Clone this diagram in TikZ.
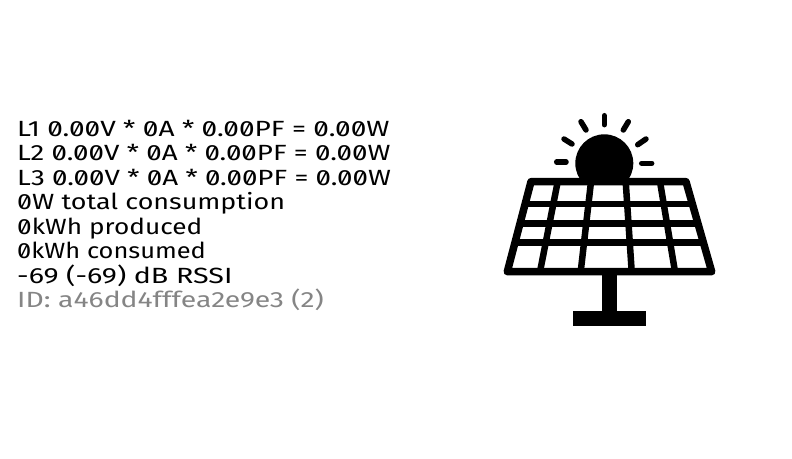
\documentclass[tikz,border=0pt]{standalone}
\usepackage{fontspec}
\setmainfont[Numbers=SlashedZero,FakeStretch=1.26]{Fira Sans}
\newcommand{\fitline}[2]{\scalebox{#1}[1]{#2}}
\tikzset{
	readout/.style={anchor=base west, inner sep=0pt, font=\fontsize{22}{24}\selectfont, text=black},
	idline/.style={readout, text=black!48},
	panelline/.style={line width=6.5pt, line cap=butt},
	sunray/.style={line width=5.5pt, line cap=round}
}

\begin{document}
\begin{tikzpicture}[x=1pt, y=-1pt]
			\useasboundingbox (0, 0) rectangle (792, 458);
			
			%%%%% text %%%%%
			\node[readout] (lineone) at (17, 136) {\fitline{1.01}{L1 0.00V * 0A * 0.00PF = 0.00W}};
			\node[readout] (linetwo) at (17, 160.5) {L2 0.00V * 0A * 0.00PF = 0.00W};
			\node[readout] (linethree) at (17, 185) {L3 0.00V * 0A * 0.00PF = 0.00W};
			\node[readout] (total) at (17, 209) {\fitline{0.97}{0W total consumption}};
			\node[readout] (produced) at (17, 234) {\fitline{0.945}{0kWh produced}};
			\node[readout] (consumed) at (17, 258) {\fitline{0.917}{0kWh consumed}};
			\node[readout] (rssi) at (17, 283) {\fitline{1.034}{-69 (-69) dB RSSI}};
			\node[idline] (devid) at (17, 307.5) {\fitline{1.023}{ID: a46dd4fffea2e9e3 (2)}};
			
			%%%%% sun %%%%%
			\begin{scope}
				\clip (560, 120) rectangle (650, 182);
				\fill (604.3, 163.3) circle (29);
			\end{scope}
			\draw[sunray] (556.7, 162) -- (566, 162);
			\draw[sunray] (564, 139) -- (572, 144);
			\draw[sunray] (581, 121.7) -- (586, 130);
			\draw[sunray] (604.3, 115.7) -- (604.3, 124.7);
			\draw[sunray] (628.3, 121.7) -- (623.3, 130);
			\draw[sunray] (646, 139) -- (637.7, 144.7);
			\draw[sunray] (641.7, 163.3) -- (651.7, 163.3);
			
			%%%%% panel %%%%%
			\draw[line width=7.5pt, line join=round] (531, 181.7) -- (686, 181.7) -- (711.7, 271.7) -- (507.3, 271.7) -- cycle;
			\draw[panelline] (525.1, 204) -- (692.4, 204);
			\draw[panelline] (520, 223.3) -- (697.9, 223.3);
			\draw[panelline] (514.9, 242.7) -- (703.4, 242.7);
			\draw[panelline] (557.7, 181.7) -- (540, 271.7);
			\draw[panelline] (591, 181.7) -- (580.7, 271.7);
			\draw[panelline] (625.7, 181.7) -- (631.7, 271.7);
			\draw[panelline] (660, 181.7) -- (675, 271.7);
			
			%%%%% stand %%%%%
			\fill (602, 272) rectangle (617.3, 311);
			\fill (573.3, 310.7) rectangle (645.7, 326);
		\end{tikzpicture}
\end{document}
